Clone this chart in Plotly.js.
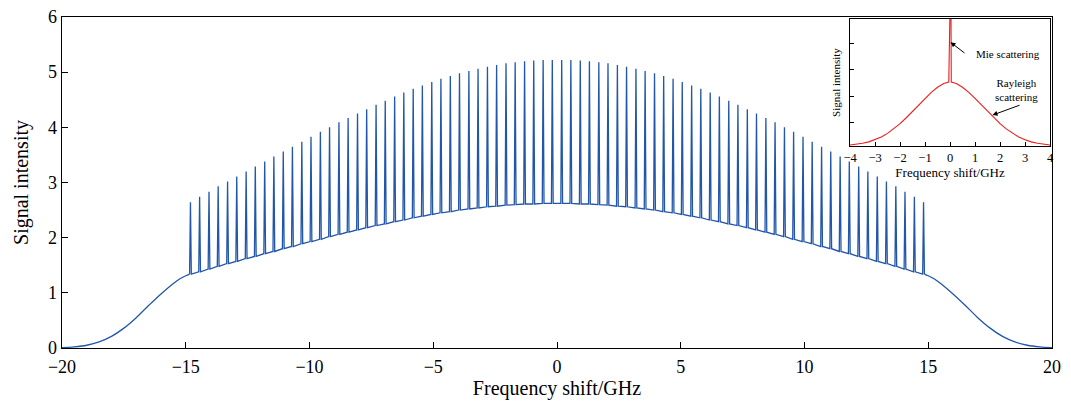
<!DOCTYPE html>
<html>
<head>
<meta charset="utf-8">
<script src="https://cdn.plot.ly/plotly-3.0.1.min.js"></script>
<style>html,body{margin:0;padding:0;background:#fff}#chart{width:1071px;height:403px}</style>
</head>
<body>
<div id="chart"></div>
<script>
// ---- data ----
const peakFreq = [
  -14.81, -14.44, -14.06, -13.69, -13.31, -12.94, -12.56, -12.19, -11.81, -11.44,
  -11.06, -10.69, -10.31, -9.94, -9.56, -9.19, -8.81, -8.44, -8.06, -7.69,
  -7.31, -6.94, -6.56, -6.19, -5.81, -5.44, -5.06, -4.69, -4.31, -3.94,
  -3.56, -3.19, -2.81, -2.44, -2.06, -1.69, -1.31, -0.94, -0.56, -0.19,
  0.19, 0.56, 0.94, 1.31, 1.69, 2.06, 2.44, 2.81, 3.19, 3.56,
  3.94, 4.31, 4.69, 5.06, 5.44, 5.81, 6.19, 6.56, 6.94, 7.31,
  7.69, 8.06, 8.44, 8.81, 9.19, 9.56, 9.94, 10.31, 10.69, 11.06,
  11.44, 11.81, 12.19, 12.56, 12.94, 13.31, 13.69, 14.06, 14.44, 14.81
];
const peakTop = [
  2.64, 2.74, 2.83, 2.93, 3.02, 3.11, 3.20, 3.29, 3.38, 3.47,
  3.56, 3.65, 3.74, 3.83, 3.92, 4.00, 4.09, 4.17, 4.25, 4.33,
  4.41, 4.48, 4.56, 4.63, 4.70, 4.76, 4.82, 4.88, 4.93, 4.98,
  5.02, 5.06, 5.10, 5.13, 5.16, 5.18, 5.20, 5.21, 5.22, 5.22,
  5.22, 5.22, 5.21, 5.20, 5.18, 5.16, 5.13, 5.10, 5.06, 5.02,
  4.98, 4.93, 4.88, 4.82, 4.76, 4.70, 4.63, 4.56, 4.48, 4.41,
  4.33, 4.25, 4.17, 4.09, 4.00, 3.92, 3.83, 3.74, 3.65, 3.56,
  3.47, 3.38, 3.29, 3.20, 3.11, 3.02, 2.93, 2.83, 2.74, 2.64
];
const peakBase = [
  1.34, 1.38, 1.43, 1.48, 1.53, 1.57, 1.62, 1.66, 1.71, 1.75,
  1.80, 1.84, 1.89, 1.93, 1.97, 2.02, 2.06, 2.10, 2.14, 2.18,
  2.22, 2.25, 2.29, 2.32, 2.36, 2.39, 2.42, 2.45, 2.47, 2.50,
  2.52, 2.54, 2.56, 2.57, 2.59, 2.60, 2.61, 2.61, 2.62, 2.62,
  2.62, 2.62, 2.61, 2.61, 2.60, 2.59, 2.57, 2.56, 2.54, 2.52,
  2.50, 2.47, 2.45, 2.42, 2.39, 2.36, 2.32, 2.29, 2.25, 2.22,
  2.18, 2.14, 2.10, 2.06, 2.02, 1.97, 1.93, 1.89, 1.84, 1.80,
  1.75, 1.71, 1.66, 1.62, 1.57, 1.53, 1.48, 1.43, 1.38, 1.34
];
const tailLeftFreq = [-20, -19.5, -19, -18.5, -18, -17.5, -17, -16.5, -16, -15.5, -15.25, -15];
const tailLeftVal  = [0.005, 0.02, 0.05, 0.11, 0.21, 0.36, 0.55, 0.77, 0.98, 1.17, 1.25, 1.31];
const tailRightFreq = [15, 15.25, 15.5, 16, 16.5, 17, 17.5, 18, 18.5, 19, 19.5, 20];
const tailRightVal  = [1.31, 1.25, 1.17, 0.98, 0.77, 0.55, 0.36, 0.21, 0.11, 0.05, 0.02, 0.005];

const xTickVals = [-20, -15, -10, -5, 0, 5, 10, 15, 20];
const yTickVals = [0, 1, 2, 3, 4, 5, 6];

// inset: Rayleigh background with the narrow Mie line at 0
const insetFreq = [-4, -3.75, -3.5, -3.25, -3, -2.75, -2.5, -2.25, -2, -1.75, -1.5, -1.25, -1, -0.75, -0.5, -0.25,
  -0.05, -0.03, 0.03, 0.05,
  0.25, 0.5, 0.75, 1, 1.25, 1.5, 1.75, 2, 2.25, 2.5, 2.75, 3, 3.25, 3.5, 3.75, 4];
const insetVal = [0.16, 0.19, 0.23, 0.28, 0.36, 0.46, 0.60, 0.77, 0.97, 1.19, 1.43, 1.68, 1.92, 2.15, 2.34, 2.48,
  2.54, 7.0, 7.0, 2.54,
  2.48, 2.34, 2.15, 1.92, 1.68, 1.43, 1.19, 0.97, 0.77, 0.60, 0.46, 0.36, 0.28, 0.23, 0.19, 0.16];
const insetXTicks = [-4, -3, -2, -1, 0, 1, 2, 3, 4];
const insetYTicks = [1, 2, 3, 4];

// ---- build traces ----
const halfWidth = 0.035; // spike half-width (GHz)
const combX = [], combY = [];
for (let i = 0; i < peakFreq.length; i++) {
  combX.push(peakFreq[i] - halfWidth, peakFreq[i], peakFreq[i] + halfWidth);
  combY.push(peakBase[i], peakTop[i], peakBase[i]);
}
const blue = 'rgb(33,86,170)';
const serif = 'Liberation Serif, Times New Roman, serif';

const traces = [
  {x: tailLeftFreq.concat([combX[0]]), y: tailLeftVal.concat([combY[0]]), mode: 'lines',
   line: {color: blue, width: 1.3, shape: 'spline'}, hoverinfo: 'skip', showlegend: false},
  {x: combX, y: combY, mode: 'lines', line: {color: blue, width: 1.3}, hoverinfo: 'skip', showlegend: false},
  {x: [combX[combX.length - 1]].concat(tailRightFreq), y: [combY[combY.length - 1]].concat(tailRightVal), mode: 'lines',
   line: {color: blue, width: 1.3, shape: 'spline'}, hoverinfo: 'skip', showlegend: false},
  {x: insetFreq, y: insetVal, xaxis: 'x2', yaxis: 'y2', mode: 'lines',
   line: {color: '#f01c1c', width: 1.1}, hoverinfo: 'skip', showlegend: false}
];

const layout = {
  width: 1071, height: 403,
  margin: {l: 62, r: 19, t: 17, b: 55},
  paper_bgcolor: '#fff', plot_bgcolor: '#fff',
  font: {family: serif, color: '#000'},
  showlegend: false,
  xaxis: {
    domain: [0, 1], range: [-20, 20], tickvals: xTickVals,
    ticks: 'inside', ticklen: 6, tickwidth: 1, tickcolor: '#000',
    showline: true, mirror: true, linecolor: '#000', linewidth: 1.4,
    showgrid: false, zeroline: false, ticklabelstandoff: 2,
    tickfont: {family: serif, size: 18},
    title: {text: 'Frequency shift/GHz', font: {family: serif, size: 20}, standoff: 4}
  },
  yaxis: {
    domain: [0, 1], range: [0, 6], tickvals: yTickVals,
    ticks: 'inside', ticklen: 6, tickwidth: 1, tickcolor: '#000',
    showline: true, mirror: true, linecolor: '#000', linewidth: 1.4,
    showgrid: false, zeroline: false,
    tickfont: {family: serif, size: 18},
    title: {text: 'Signal intensity', font: {family: serif, size: 20}, standoff: 14}
  },
  xaxis2: {
    domain: [0.796, 0.998], anchor: 'y2', range: [-4, 4], tickvals: insetXTicks,
    ticks: 'inside', ticklen: 4, tickwidth: 1, tickcolor: '#000',
    showline: true, mirror: true, linecolor: '#000', linewidth: 1.3,
    showgrid: false, zeroline: false,
    tickfont: {family: serif, size: 12.5},
    title: {text: 'Frequency shift/GHz', font: {family: serif, size: 13}, standoff: 2}
  },
  yaxis2: {
    domain: [0.61, 0.994], anchor: 'x2', range: [0.12, 4.92], tickvals: insetYTicks,
    showticklabels: false,
    ticks: 'inside', ticklen: 4, tickwidth: 1, tickcolor: '#000',
    showline: true, mirror: true, linecolor: '#000', linewidth: 1.3,
    showgrid: false, zeroline: false,
    title: {text: 'Signal intensity', font: {family: serif, size: 11}, standoff: 6}
  },
  annotations: [
    {xref: 'x2', yref: 'y2', x: 0.02, y: 4.04, ax: 17, ay: 13, text: ' ', showarrow: true,
     arrowhead: 2, arrowsize: 1, arrowwidth: 1, arrowcolor: '#000', standoff: 0, startstandoff: 0},
    {xref: 'x2', yref: 'y2', x: 0.96, y: 3.59, text: 'Mie scattering', showarrow: false,
     xanchor: 'left', yanchor: 'middle', font: {family: serif, size: 11}},
    {xref: 'x2', yref: 'y2', x: 1.70, y: 1.29, ax: 30, ay: -11, text: ' ', showarrow: true,
     arrowhead: 2, arrowsize: 1, arrowwidth: 1, arrowcolor: '#000', standoff: 0, startstandoff: 0},
    {xref: 'x2', yref: 'y2', x: 2.66, y: 2.24, text: 'Rayleigh<br>scattering', showarrow: false,
     xanchor: 'center', yanchor: 'middle', align: 'center', font: {family: serif, size: 11}}
  ]
};

Plotly.newPlot('chart', traces, layout, {displayModeBar: false, staticPlot: true});
</script>
</body>
</html>
